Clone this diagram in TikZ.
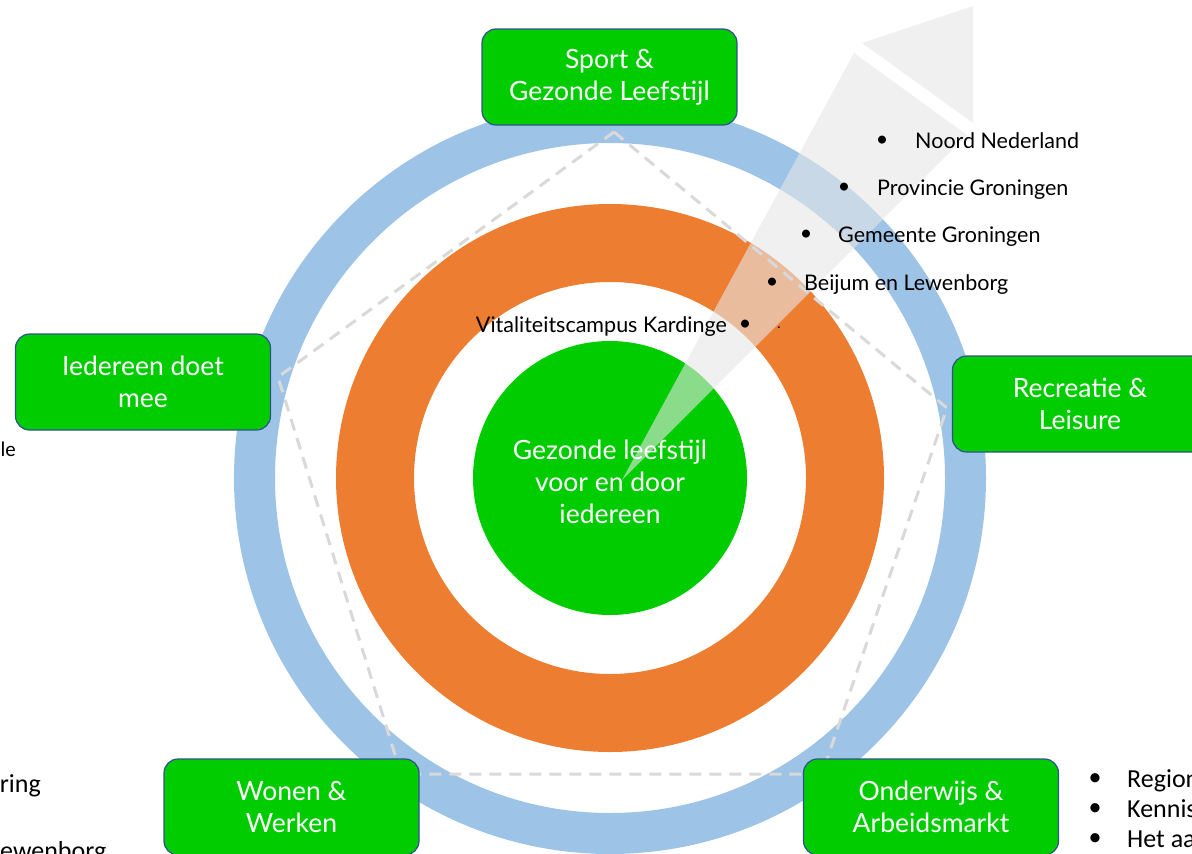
\documentclass[tikz,border=0pt]{standalone}
\usepackage{fontspec}
\setmainfont{Lato}
\newfontfamily\calfont{Carlito}
\definecolor{boxgreen}{HTML}{00CC00}
\definecolor{boxline}{HTML}{2F528F}
\definecolor{ringblue}{HTML}{9DC3E6}
\definecolor{ringorange}{HTML}{ED7D31}
\definecolor{arrowgray}{RGB}{230,230,230}
\definecolor{dashgray}{HTML}{D9D9D9}
\begin{document}
\begin{tikzpicture}[x=1pt,y=-1pt,
  pillar/.style={draw=boxline, line width=1.2pt, fill=boxgreen, rounded corners=14pt,
    minimum width=255pt, minimum height=96pt, text=white, align=center,
    font=\fontsize{26.5}{32}\selectfont, inner sep=0pt},
  bultext/.style={font=\fontsize{21.5}{25}\selectfont, anchor=base west, inner sep=0pt},
  buldot/.style={font=\fontsize{21.5}{25}\selectfont, anchor=center, inner sep=0pt},
  caltext/.style={font=\calfont\fontsize{26}{30}\selectfont, inner sep=0pt},
  arrowpart/.style={fill=arrowgray, fill opacity=0.6, draw=none},
  pent/.style={draw=dashgray, line width=3pt, dash pattern=on 12pt off 8pt}
]
\useasboundingbox (0,0) rectangle (1192,854);
\coordinate (c) at (610,478);
% rings
\draw[ringblue, line width=41pt] (c) circle[radius=355.5pt];
\draw[ringorange, line width=78pt] (c) circle[radius=235pt];
\fill[boxgreen] (c) circle[radius=137pt];
% arrow
\coordinate (a0) at (622,480);
\coordinate (a1) at (854,53);
\coordinate (a2) at (967,135);
\coordinate (h0) at (862,43);
\coordinate (h1) at (973,6);
\coordinate (h2) at (973,123);
\path[arrowpart] (a0) -- (a1) -- (a2) -- cycle;
\path[arrowpart] (h0) -- (h1) -- (h2) -- cycle;
% pentagon
\coordinate (p1) at (614,132);
\coordinate (p2) at (947,408);
\coordinate (p3) at (822,774);
\coordinate (p4) at (401,774);
\coordinate (p5) at (278,377);
\draw[pent] (p1) -- (p2) -- (p3) -- (p4) -- (p5) -- cycle;
% boxes
\node[pillar] (sport) at (609.5,77) {Sport \&\\Gezonde Leefstijl};
\node[pillar] (iedereen) at (143,382) {Iedereen doet\\mee};
\node[pillar] (recreatie) at (1080,404) {Recreatie \&\\Leisure};
\node[pillar] (wonen) at (291.5,807) {Wonen \&\\Werken};
\node[pillar] (onderwijs) at (931,807) {Onderwijs \&\\Arbeidsmarkt};
% centre
\node[text=white, align=center, font=\fontsize{26.5}{32}\selectfont, inner sep=0pt] (centre) at (610,482)
  {Gezonde leefstijl\\voor en door\\iedereen};
% bullets on the arrow
\node[buldot] (d1) at (882,141) {•};
\node[bultext] (t1) at (915,148) {Noord Nederland};
\node[buldot] (d2) at (844,188) {•};
\node[bultext] (t2) at (877,195) {Provincie Groningen};
\node[buldot] (d3) at (806,235) {•};
\node[bultext] (t3) at (838,242) {Gemeente Groningen};
\node[buldot] (d4) at (772,283) {•};
\node[bultext] (t4) at (804,290) {Beijum en Lewenborg};
\node[bultext, anchor=base east] (t5) at (727,332) {Vitaliteitscampus Kardinge};
\node[buldot] (d5) at (745,325) {•};
\node[buldot, font=\fontsize{14}{16}\selectfont] (d6) at (779,328) {.};
% cut-off texts at the edges
\node[caltext, font=\calfont\fontsize{21}{25}\selectfont, anchor=base east] (l1) at (16,456) {le};
\node[caltext, anchor=base east] (l2) at (41,792) {ring};
\node[caltext, anchor=base west] (l3) at (0,859) {ewenborg};
\node[caltext, anchor=center] (r1d) at (1095,780) {•};
\node[caltext, anchor=base west] (r1) at (1127,787) {Region};
\node[caltext, anchor=center] (r2d) at (1095,810) {•};
\node[caltext, anchor=base west] (r2) at (1127,817) {Kennis};
\node[caltext, anchor=center] (r3d) at (1095,840) {•};
\node[caltext, anchor=base west] (r3) at (1127,847) {Het aa};
\end{tikzpicture}
\end{document}
